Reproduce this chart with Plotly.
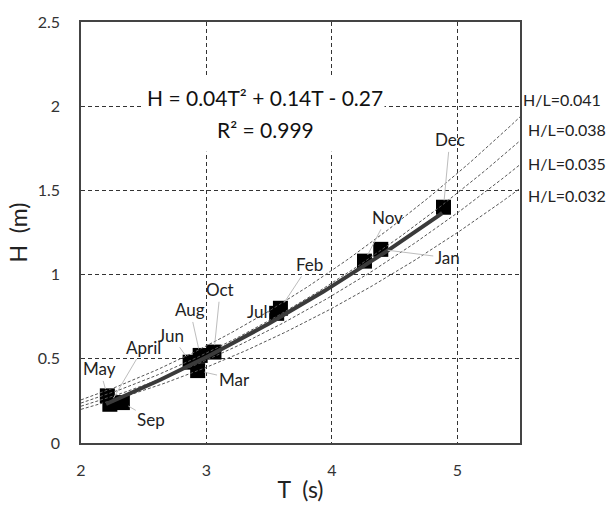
import numpy as np
import plotly.graph_objects as go

# Monthly mean wave period T (s) and height H (m)
months = ["Jan", "Feb", "Mar", "April", "May", "Jun", "Jul", "Aug", "Sep", "Oct", "Nov", "Dec"]
T_vals = [4.39, 3.59, 2.93, 2.23, 2.21, 2.87, 3.56, 2.95, 2.33, 3.06, 4.26, 4.89]
H_vals = [1.15, 0.80, 0.43, 0.23, 0.28, 0.48, 0.77, 0.52, 0.24, 0.54, 1.08, 1.40]

# label positions (T, H) of month labels
label_T = [4.92, 3.82, 3.22, 2.50, 2.15, 2.72, 3.40, 2.87, 2.56, 3.11, 4.44, 4.94]
label_H = [1.10, 1.06, 0.38, 0.57, 0.44, 0.64, 0.78, 0.79, 0.14, 0.91, 1.34, 1.80]

# quadratic fit coefficients (from the chart's equation)
fit_a, fit_b, fit_c = 0.04, 0.14, -0.27
fit_T_range = [2.2, 4.88]

# wave steepness lines H/L
steepness = [0.041, 0.038, 0.035, 0.032]
steep_label_y = [2.04, 1.86, 1.66, 1.47]
steep_label_shift = [1, 6, 6, 6]

x_ticks = [2, 3, 4, 5]
y_ticks = [0, 0.5, 1, 1.5, 2, 2.5]

FONT = "Lato, 'Open Sans', sans-serif"
fig = go.Figure()

fig.add_trace(go.Scatter(x=T_vals, y=H_vals, mode="markers",
                         marker=dict(symbol="square", size=15, color="black",
                                     line=dict(width=0)),
                         showlegend=False, hoverinfo="skip"))

g = 9.81
Tc = np.linspace(2.0, 5.5, 120)
for s in steepness:
    fig.add_trace(go.Scatter(x=Tc, y=s * g / (2 * np.pi) * Tc ** 2, mode="lines",
                             line=dict(color="#555555", width=1, dash="3px,2px"),
                             showlegend=False, hoverinfo="skip"))

Tf = np.linspace(fit_T_range[0], fit_T_range[1], 80)
fig.add_trace(go.Scatter(x=Tf, y=fit_a * Tf ** 2 + fit_b * Tf + fit_c, mode="lines",
                         line=dict(color="#3a3a3a", width=4),
                         showlegend=False, hoverinfo="skip"))

annotations = []
for m, tx, hy, lx, ly in zip(months, T_vals, H_vals, label_T, label_H):
    annotations.append(dict(x=tx, y=hy, xref="x", yref="y",
                            ax=lx, ay=ly, axref="x", ayref="y",
                            text=m, showarrow=True, arrowhead=0, arrowwidth=1,
                            arrowcolor="#bdbdbd", standoff=7,
                            font=dict(family=FONT, size=17, color="#222")))

for s, yy, sh in zip(steepness, steep_label_y, steep_label_shift):
    annotations.append(dict(x=1.0, y=yy, xref="paper", yref="y", xanchor="left",
                            text=f"H/L={s:.3f}", showarrow=False, xshift=sh,
                            font=dict(family=FONT, size=16, color="#222")))

annotations.append(dict(x=3.47, y=2.05, xref="x", yref="y", showarrow=False,
                        text="H = 0.04T² + 0.14T - 0.27",
                        font=dict(family=FONT, size=21, color="#111")))
annotations.append(dict(x=3.47, y=1.86, xref="x", yref="y", showarrow=False,
                        text="R² = 0.999",
                        font=dict(family=FONT, size=21, color="#111")))

shapes = [dict(type="rect", xref="x", yref="y", x0=2.49, x1=4.42, y0=1.73, y1=2.18,
               fillcolor="white", line=dict(width=0), layer="between")]

fig.update_layout(
    width=607, height=515,
    margin=dict(l=81, r=87, t=20, b=72),
    paper_bgcolor="white", plot_bgcolor="white",
    annotations=annotations, shapes=shapes,
    font=dict(family=FONT, size=16, color="#333"),
)
fig.update_xaxes(range=[2, 5.5], tickvals=x_ticks, showgrid=True,
                 gridcolor="#333", gridwidth=1.3, griddash="4px,3px",
                 showline=True, linecolor="#444", linewidth=1.5, mirror=True,
                 zeroline=False, ticks="", ticklabelstandoff=12,
                 tickfont=dict(size=16, color="#333"),
                 title=dict(text="T\u00a0\u00a0(s)", font=dict(size=23, color="#222"), standoff=4))
fig.update_yaxes(range=[0, 2.5], tickvals=y_ticks, showgrid=True,
                 gridcolor="#333", gridwidth=1.3, griddash="4px,3px",
                 showline=True, linecolor="#444", linewidth=1.5, mirror=True,
                 zeroline=False, ticks="", ticklabelstandoff=16,
                 tickfont=dict(size=16, color="#333"),
                 title=dict(text="H\u00a0\u00a0(m)", font=dict(size=23, color="#222"), standoff=4))

fig.write_html("out.html")
